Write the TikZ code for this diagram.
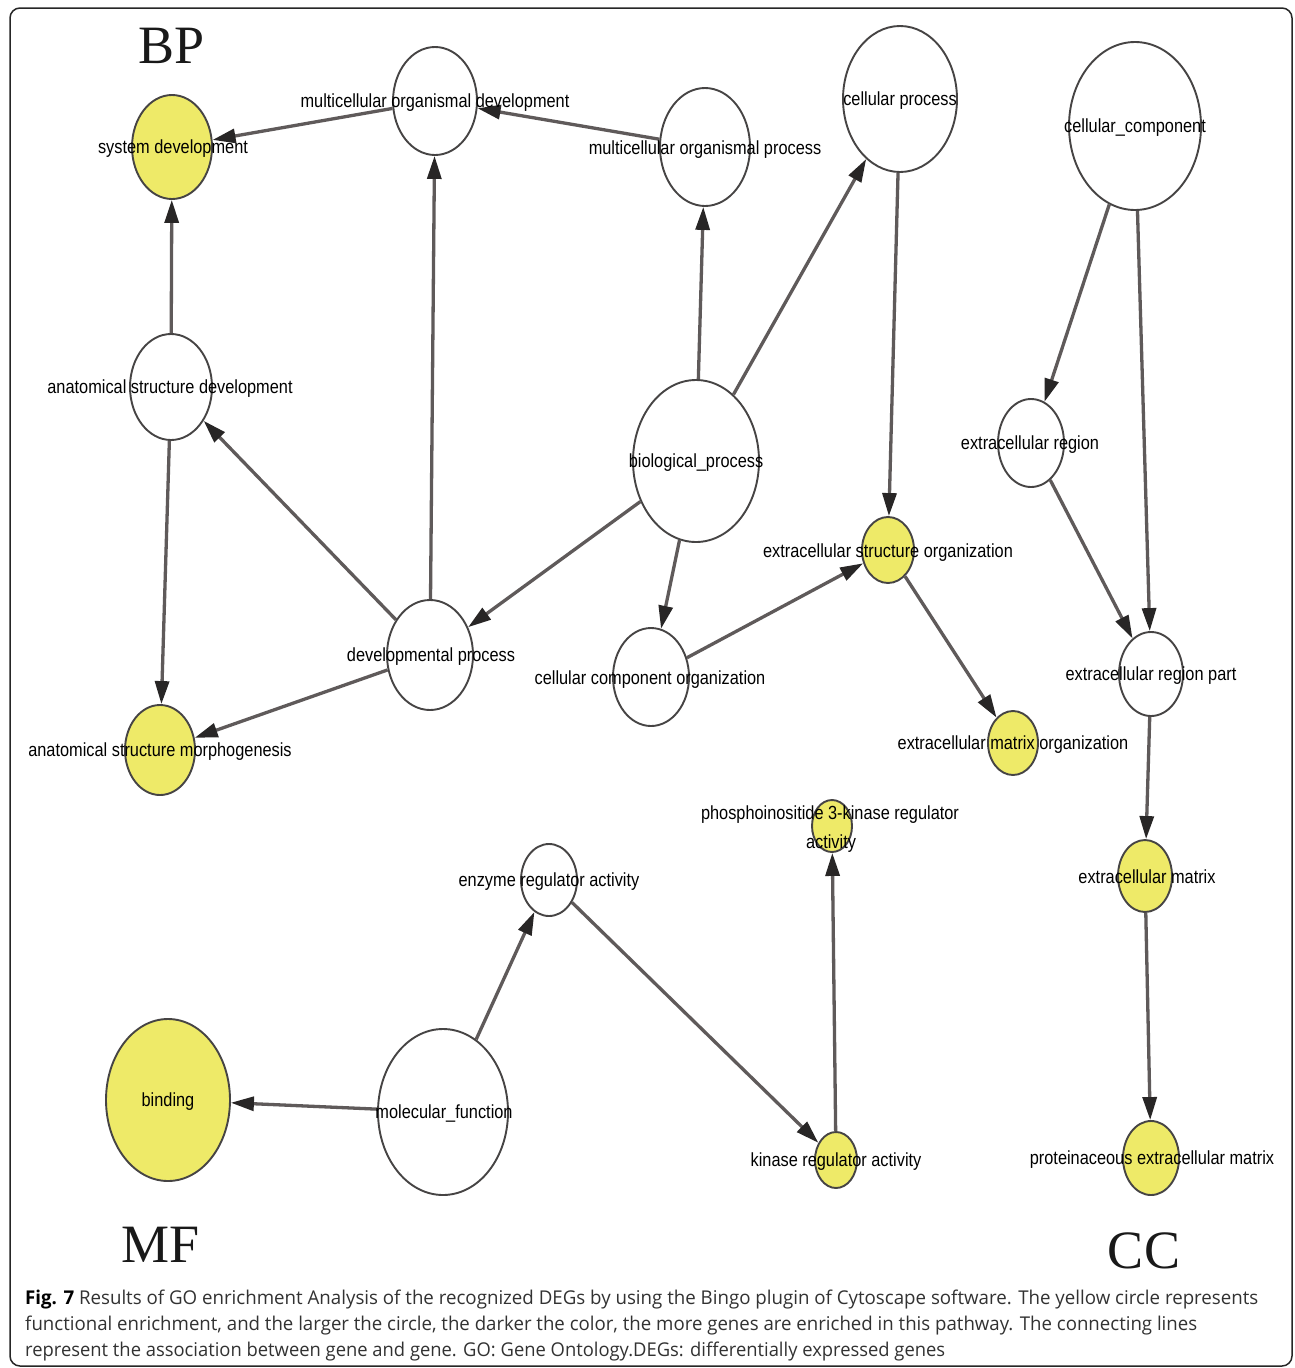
\documentclass[tikz,border=0pt]{standalone}
\usepackage{fontspec}
\usepackage{graphicx}
\usetikzlibrary{shapes.geometric,arrows.meta}
\newfontfamily\labfont[FakeStretch=0.86]{Liberation Sans}
\newfontfamily\bigfont{Liberation Serif}
\newfontfamily\capfont{Open Sans}
\definecolor{goyellow}{RGB}{238,234,104}
\definecolor{nodeborder}{RGB}{70,68,68}
\definecolor{edgec}{RGB}{95,90,90}
\definecolor{arrowc}{RGB}{40,38,38}
\definecolor{capc}{RGB}{50,50,50}
\tikzset{
  gonode/.style={ellipse, draw=nodeborder, line width=1.9pt, inner sep=0pt},
  wnode/.style={gonode, fill=white},
  ynode/.style={gonode, fill=goyellow},
  lab/.style={font=\labfont\fontsize{19pt}{21pt}\selectfont, text=black, inner sep=0pt, text height=13pt, text depth=1pt},
  goedge/.style={draw=edgec, line width=3.3pt, -{Triangle[length=23pt,width=14pt,color=arrowc]}},
  biglab/.style={font=\bigfont\fontsize{54pt}{60pt}\selectfont, text=black!90, inner sep=0pt, anchor=base},
  capline/.style={font=\capfont\fontsize{19pt}{22pt}\selectfont, text=capc, inner sep=0pt, anchor=base west},
}
\newcommand{\gonodedef}[6]{\node[#6, minimum width=#4*2pt, minimum height=#5*2pt] (#1) at (#2,#3) {};}
\begin{document}
\begin{tikzpicture}[x=1pt,y=-1pt]
\useasboundingbox (0,0) rectangle (1295,1368);
\fill[white] (0,0) rectangle (1295,1368);
\draw[line width=1.5pt, draw=black!85, rounded corners=10pt] (10,8) rectangle (1292,1366);

% nodes
\gonodedef{sysdev}{172}{147}{40}{52}{ynode}
\gonodedef{mod}{435}{101}{42}{54}{wnode}
\gonodedef{mop}{705}{147}{45}{59}{wnode}
\gonodedef{cproc}{900}{99}{57}{73}{wnode}
\gonodedef{ccomp}{1135}{126}{66}{84}{wnode}
\gonodedef{asd}{171}{387}{41}{53}{wnode}
\gonodedef{bproc}{696}{461}{63}{81}{wnode}
\gonodedef{ereg}{1031}{443}{33}{44}{wnode}
\gonodedef{eso}{888}{550}{26}{33}{ynode}
\gonodedef{devp}{430}{655}{43}{55}{wnode}
\gonodedef{cco}{651}{677}{38}{49}{wnode}
\gonodedef{erp}{1151}{674}{32}{42}{wnode}
\gonodedef{asm}{160}{750}{35}{45}{ynode}
\gonodedef{emo}{1013}{743}{25}{32}{ynode}
\gonodedef{pik}{832}{826}{20}{26}{ynode}
\gonodedef{era}{549}{880}{28}{36}{wnode}
\gonodedef{emat}{1145}{876}{27}{36}{ynode}
\gonodedef{bind}{168}{1100}{62}{81}{ynode}
\gonodedef{molf}{443}{1112}{65}{83}{wnode}
\gonodedef{kra}{836}{1160}{21}{28}{ynode}
\gonodedef{pem}{1151}{1158}{28}{37}{ynode}

% edges
\draw[goedge] (mod) -- (sysdev);
\draw[goedge] (mop) -- (mod);
\draw[goedge] (asd) -- (sysdev);
\draw[goedge] (devp) -- (mod);
\draw[goedge] (bproc) -- (mop);
\draw[goedge] (bproc) -- (cproc);
\draw[goedge] (cproc) -- (eso);
\draw[goedge] (devp) -- (asd);
\draw[goedge] (bproc) -- (devp);
\draw[goedge] (asd) -- (asm);
\draw[goedge] (devp) -- (asm);
\draw[goedge] (bproc) -- (cco);
\draw[goedge] (cco) -- (eso);
\draw[goedge] (eso) -- (emo);
\draw[goedge] (ccomp) -- (ereg);
\draw[goedge] (ccomp) -- (erp);
\draw[goedge] (ereg) -- (erp);
\draw[goedge] (erp) -- (emat);
\draw[goedge] (emat) -- (pem);
\draw[goedge] (molf) -- (bind);
\draw[goedge] (molf) -- (era);
\draw[goedge] (era) -- (kra);
\draw[goedge] (kra) -- (pik);

% labels
\node[lab] (sysdev-l) at (173,147) {system development};
\node[lab] (mod-l) at (435,101) {multicellular organismal development};
\node[lab] (mop-l) at (705,148) {multicellular organismal process};
\node[lab] (cproc-l) at (900,99) {cellular process};
\node[lab] (ccomp-l) at (1135,126) {cellular\_component};
\node[lab] (asd-l) at (170,387) {anatomical structure development};
\node[lab] (bproc-l) at (696,461) {biological\_process};
\node[lab] (ereg-l) at (1030,443) {extracellular region};
\node[lab] (eso-l) at (888,551) {extracellular structure organization};
\node[lab] (devp-l) at (431,655) {developmental process};
\node[lab] (cco-l) at (650,678) {cellular component organization};
\node[lab] (erp-l) at (1151,674) {extracellular region part};
\node[lab] (asm-l) at (160,750) {anatomical structure morphogenesis};
\node[lab] (emo-l) at (1013,743) {extracellular matrix organization};
\node[lab] (pik-l1) at (830,813) {phosphoinositide 3-kinase regulator};
\node[lab] (pik-l2) at (831,842) {activity};
\node[lab] (era-l) at (549,880) {enzyme regulator activity};
\node[lab] (emat-l) at (1147,877) {extracellular matrix};
\node[lab] (bind-l) at (168,1100) {binding};
\node[lab] (molf-l) at (444,1112) {molecular\_function};
\node[lab] (kra-l) at (836,1160) {kinase regulator activity};
\node[lab] (pem-l) at (1152,1158) {proteinaceous extracellular matrix};

% group labels
\node[biglab] (bp) at (172,63) {BP};
\node[biglab] (mf) at (161,1262) {MF};
\node[biglab] (cc) at (1144,1268) {CC};

% caption
\node[capline] (cap1) at (25,1304) {\resizebox{1233pt}{\height}{\textcolor{black}{\bfseries Fig. 7} Results of GO enrichment Analysis of the recognized DEGs by using the Bingo plugin of Cytoscape software. The yellow circle represents}};
\node[capline] (cap2) at (25,1330) {\resizebox{1172pt}{\height}{functional enrichment, and the larger the circle, the darker the color, the more genes are enriched in this pathway. The connecting lines}};
\node[capline] (cap3) at (25,1356) {\resizebox{920pt}{\height}{represent the association between gene and gene. GO: Gene Ontology.DEGs: differentially expressed genes}};
\end{tikzpicture}
\end{document}
